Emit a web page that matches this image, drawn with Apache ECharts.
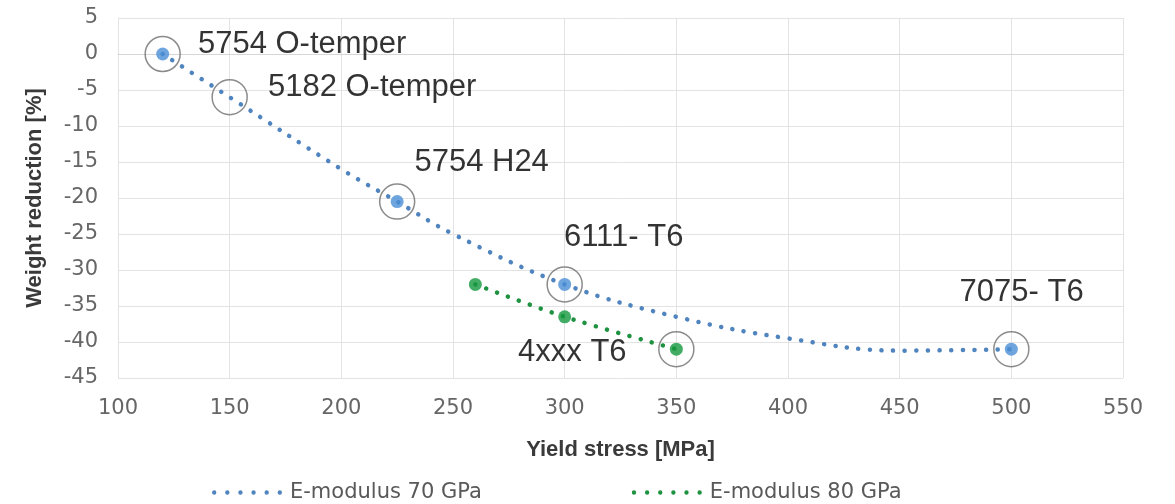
<!DOCTYPE html>
<html>
<head>
<meta charset="utf-8">
<script src="https://cdn.jsdelivr.net/npm/echarts@6/dist/echarts.min.js"></script>
<style>
  html, body { margin: 0; padding: 0; background: #fff; }
  #chart { width: 1175px; height: 504px; }
</style>
</head>
<body>
<div id="chart"></div>
<script>
// measured points (yield stress MPa, weight reduction %)
var pts70 = [[120, 0], [225, -20.5], [300, -32], [500, -41]];
var pts80 = [[260, -32], [300, -36.5], [350, -41]];
// trend lines
var trend70 = [[120, 0], [150, -6], [200, -16], [225, -20.5], [250, -25], [300, -32], [350, -36.5], [400, -39.5], [450, -41.2], [500, -41]];
var trend80 = [[260, -32], [300, -36.5], [350, -41]];
// circled points with their labels
var circled = [[120, 0], [150, -6], [225, -20.5], [300, -32], [500, -41], [350, -41]];
var circleLabels = ["5754 O-temper", "5182 O-temper", "5754 H24", "6111- T6", "7075- T6", "4xxx T6"];
var labelOffsets = [[36, -9], [39, -9], [18, -38], [0, -46], [-51, -56], [-49, 4]];
var labelAlign = ["left", "left", "left", "left", "left", "right"];
var seriesNames = ["E-modulus 70 GPa", "E-modulus 80 GPa"];

var blue = "#4a8fd6", blueDot = "#4f84bf", green = "#15993f", greenDot = "#1f9242";
var ring = 35;
// six dots for the legend icon
var dotsIcon = "path://M0,2a2,2 0 1,0 4,0a2,2 0 1,0 -4,0M12,2a2,2 0 1,0 4,0a2,2 0 1,0 -4,0" +
  "M24,2a2,2 0 1,0 4,0a2,2 0 1,0 -4,0M36,2a2,2 0 1,0 4,0a2,2 0 1,0 -4,0" +
  "M48,2a2,2 0 1,0 4,0a2,2 0 1,0 -4,0M60,2a2,2 0 1,0 4,0a2,2 0 1,0 -4,0";

var chart = echarts.init(document.getElementById("chart"));

var annotData = circled.map(function (p, i) {
  return {
    value: p,
    label: {
      show: true,
      formatter: circleLabels[i],
      position: [ring / 2 + labelOffsets[i][0], ring / 2 + labelOffsets[i][1]],
      align: labelAlign[i],
      verticalAlign: "middle",
      color: "#000",
      fontFamily: "Liberation Sans",
      fontSize: 31
    }
  };
});

var option = {
  animation: false,
  grid: { left: 118, right: 52, top: 18, bottom: 126 },
  legend: {
    top: 477,
    left: 207,
    itemWidth: 70,
    itemHeight: 5,
    itemGap: 150,
    data: [
      { name: seriesNames[0], icon: dotsIcon },
      { name: seriesNames[1], icon: dotsIcon }
    ],
    textStyle: { fontFamily: "DejaVu Sans", fontSize: 21, color: "#595959", padding: [0, 0, 0, 3] }
  },
  xAxis: {
    type: "value",
    min: 100, max: 550, interval: 50,
    name: "Yield stress [MPa]",
    nameLocation: "middle",
    nameGap: 61,
    nameTextStyle: { fontFamily: "Liberation Sans", fontWeight: "bold", fontSize: 22, color: "#3a3a3a" },
    axisLine: { lineStyle: { color: "#d6d6d6" } },
    axisTick: { show: false },
    axisLabel: { fontFamily: "DejaVu Sans", fontSize: 21, color: "#666", margin: 20 },
    splitLine: { lineStyle: { color: "#e3e3e3" } }
  },
  yAxis: {
    type: "value",
    min: -45, max: 5, interval: 5,
    name: "Weight reduction [%]",
    nameLocation: "middle",
    nameGap: 72,
    nameTextStyle: { fontFamily: "Liberation Sans", fontWeight: "bold", fontSize: 22, color: "#3a3a3a" },
    axisLine: { show: true, lineStyle: { color: "#e3e3e3" } },
    axisTick: { show: false },
    axisLabel: { fontFamily: "DejaVu Sans", fontSize: 21, color: "#666", margin: 20 },
    splitLine: { lineStyle: { color: "#e3e3e3" } }
  },
  series: [
    {
      name: seriesNames[0],
      type: "line",
      smooth: 0.4,
      showSymbol: false,
      symbol: "none",
      data: trend70,
      itemStyle: { color: blueDot },
      lineStyle: { color: blueDot, width: 4.5, type: [0.1, 11.5], cap: "round" },
      z: 2
    },
    {
      name: seriesNames[1],
      type: "line",
      smooth: 0.3,
      showSymbol: false,
      symbol: "none",
      data: trend80,
      itemStyle: { color: greenDot },
      lineStyle: { color: greenDot, width: 4.5, type: [0.1, 11.5], cap: "round" },
      z: 2
    },
    {
      type: "scatter",
      data: pts70,
      symbolSize: 13,
      itemStyle: { color: blue },
      z: 3
    },
    {
      type: "scatter",
      data: pts80,
      symbolSize: 13,
      itemStyle: { color: green },
      z: 3
    },
    {
      type: "scatter",
      data: annotData,
      symbolSize: ring,
      itemStyle: { color: "rgba(0,0,0,0)", borderColor: "#6e6e6e", borderWidth: 1.5 },
      z: 4
    }
  ]
};

chart.setOption(option);
</script>
</body>
</html>
